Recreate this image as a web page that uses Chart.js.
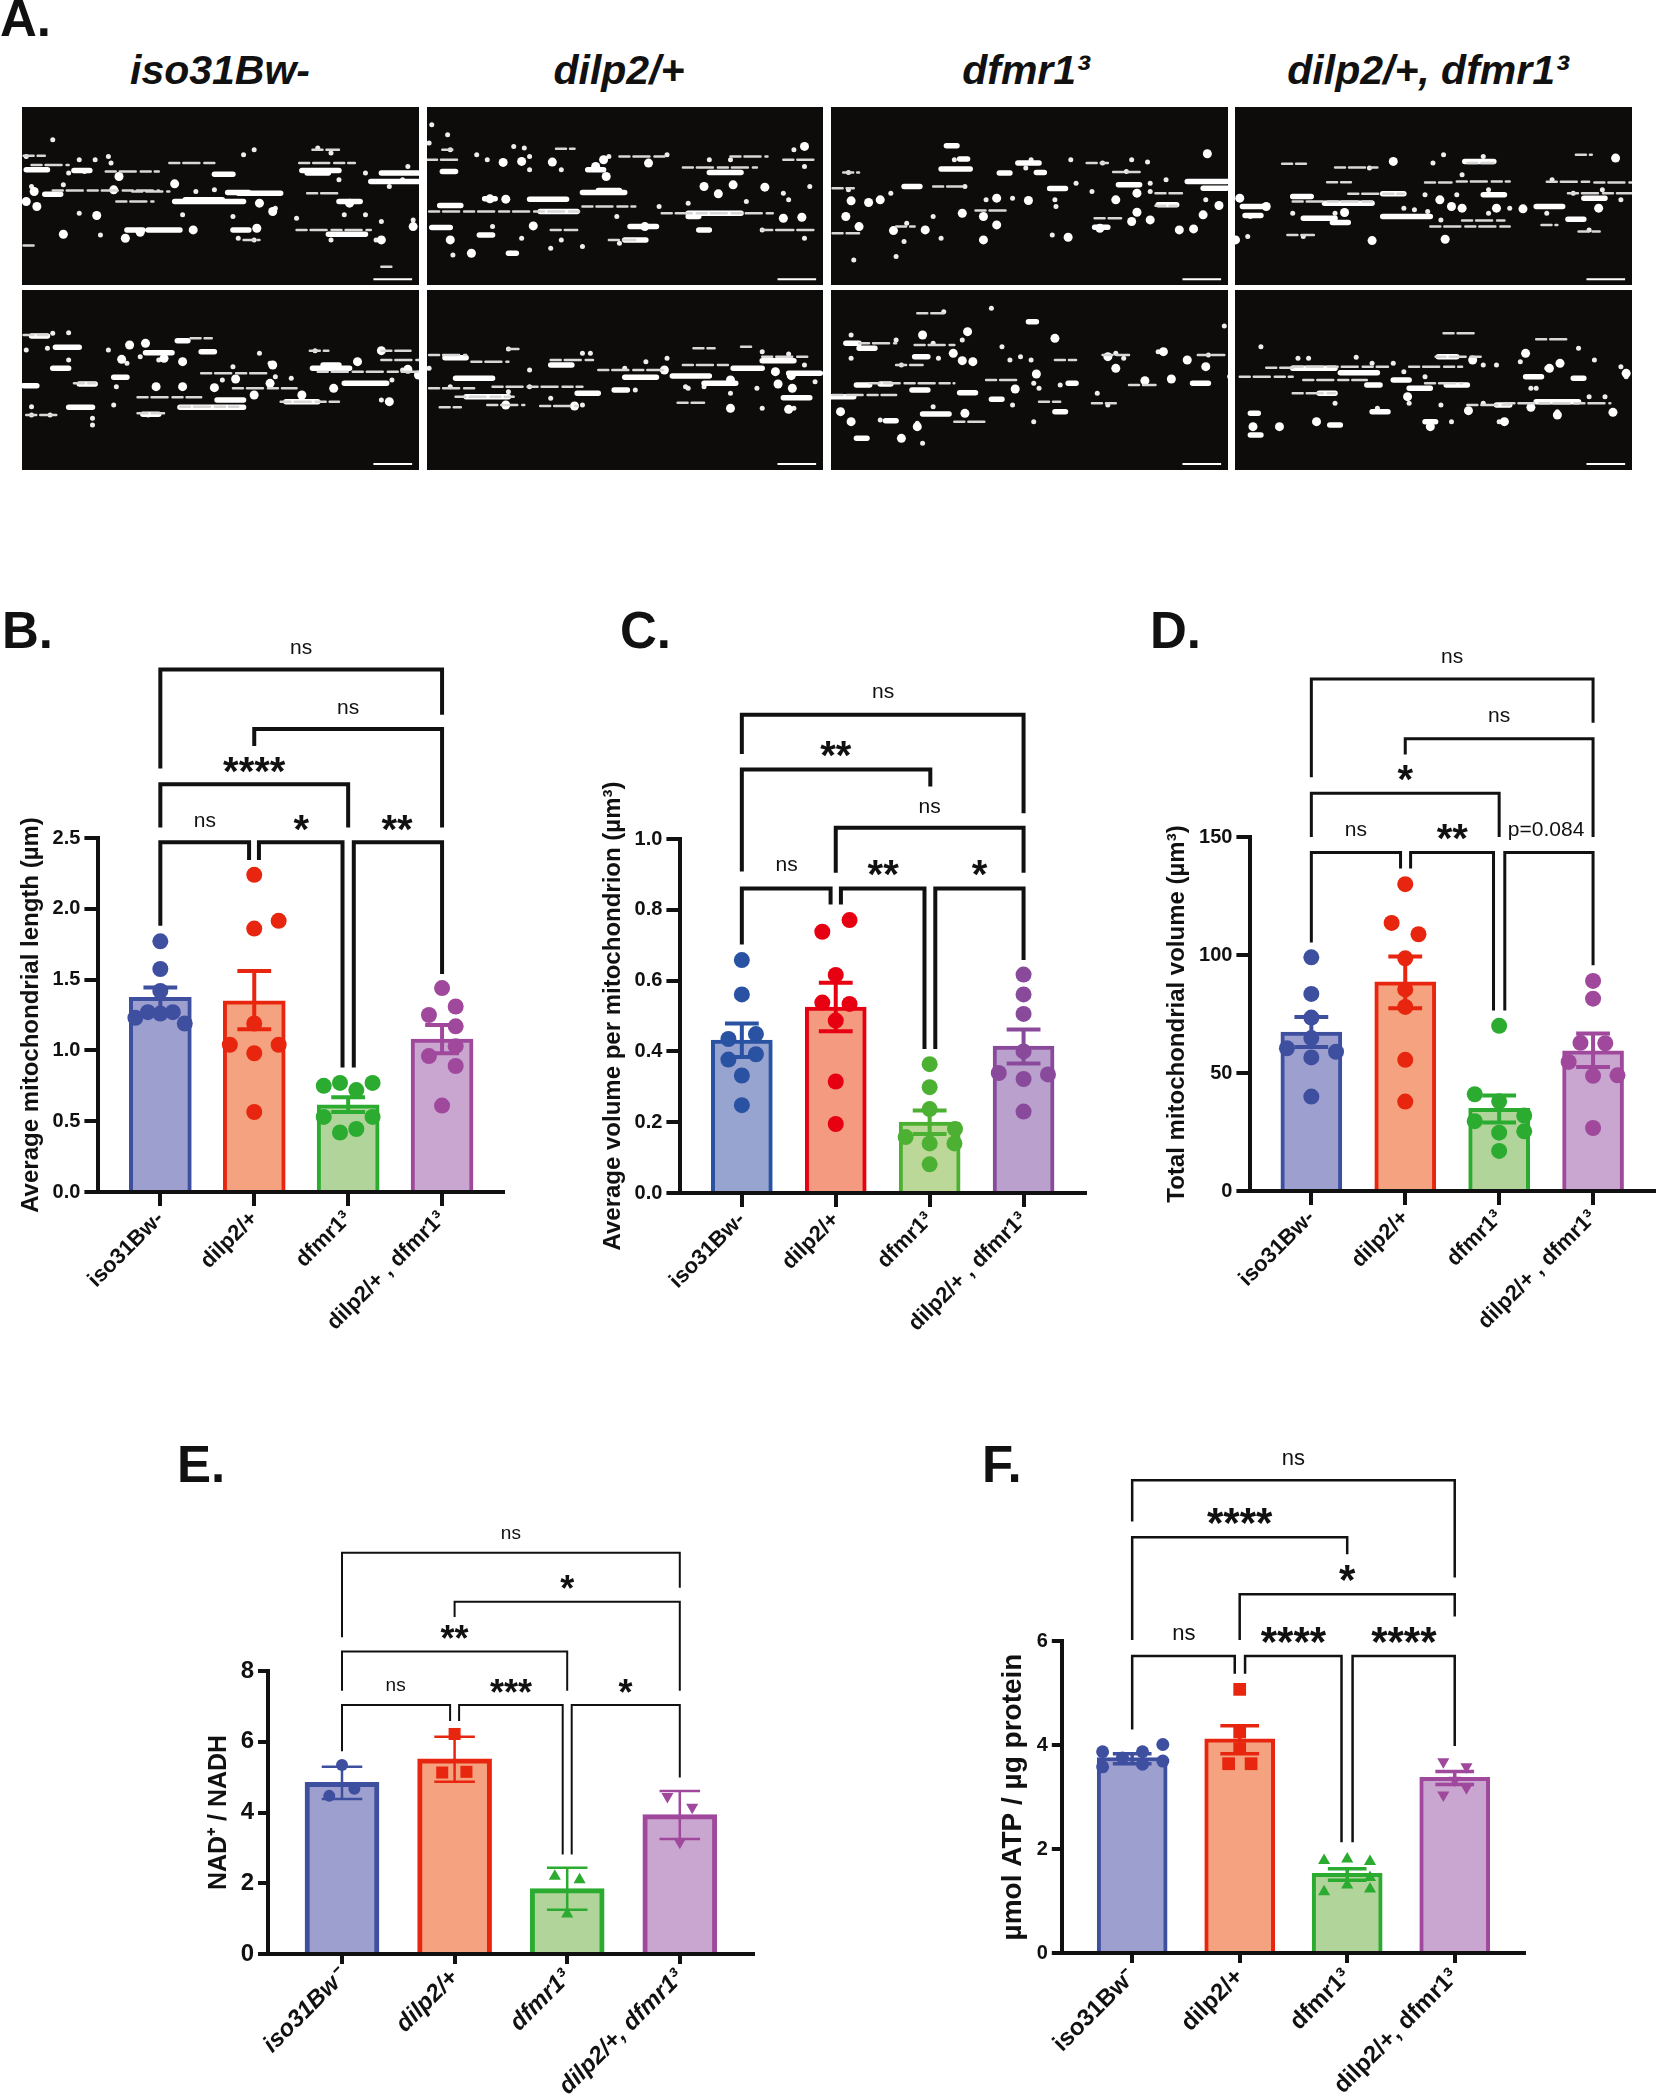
<!DOCTYPE html>
<html>
<head>
<meta charset="utf-8">
<title>Mitochondria panels</title>
<script src="https://cdn.jsdelivr.net/npm/chart.js@4"></script>
<style>
    body { margin: 0; background: #fff; width: 1657px; height: 2100px; position: relative; overflow: hidden; font-family: "Liberation Sans", Arial, sans-serif; color: #111; }
    canvas { position: absolute; }
    .letter { position: absolute; font-weight: bold; font-size: 51px; line-height: 51px; }
    .head { position: absolute; top: 47px; width: 440px; text-align: center; font-weight: bold; font-style: italic; font-size: 41px; line-height: 46px; }
    .tile { background: #0e0c0b; filter: blur(0.7px); }
</style>
</head>
<body>
<div class="letter" style="left:0px;top:-7px">A.</div>
<div class="letter" style="left:2px;top:605px">B.</div>
<div class="letter" style="left:620px;top:605px">C.</div>
<div class="letter" style="left:1150px;top:605px">D.</div>
<div class="letter" style="left:177px;top:1439px">E.</div>
<div class="letter" style="left:982px;top:1439px">F.</div>
<div class="head" style="left:0px">iso31Bw-</div>
<div class="head" style="left:399px">dilp2/+</div>
<div class="head" style="left:806px">dfmr1³</div>
<div class="head" style="left:1208px">dilp2/+, dfmr1³</div>

<script>
// ---- values ----
const groupLabels = ['iso31Bw-', 'dilp2/+', 'dfmr1³', 'dilp2/+ , dfmr1³'];
const groupLabelsE = ['iso31Bw⁻', 'dilp2/+', 'dfmr1³', 'dilp2/+, dfmr1³'];

// Panel B
const bTicks = [0, 0.5, 1, 1.5, 2, 2.5];
const bMeans = [1.375, 1.35, 0.615, 1.08];
const bUpper = [1.445, 1.56, 0.67, 1.18];
const bLower = [1.28, 1.15, 0.565, 0.98];
const bPoints = [
    [1.77, 1.575, 1.42, 1.23, 1.27, 1.26, 1.27, 1.19],
    [2.24, 1.86, 1.915, 1.19, 1.04, 1.04, 0.98, 0.565],
    [0.75, 0.77, 0.72, 0.77, 0.53, 0.53, 0.42, 0.445],
    [1.44, 1.31, 1.25, 1.17, 1.03, 0.96, 0.89, 0.61]
];
const bSpread = [
    [0, 0, 0, -0.266, -0.133, 0, 0.133, 0.26],
    [0, 0, 0.26, 0, -0.26, 0.26, 0, 0],
    [-0.26, -0.087, 0.087, 0.26, -0.26, 0.26, -0.087, 0.087],
    [0, 0.145, -0.14, 0.145, 0.145, -0.14, 0.145, 0]
];
const bBrackets = [
    [1, 2.99, 4, 3.37, 3.69],
    [2, 3.15, 4, 2.575, 3.27],
    [1, 2.575, 3, 2.575, 2.88],
    [1, 1.88, 1.945, 2.345, 2.47],
    [2.05, 2.345, 2.94, 0.88, 2.47],
    [3.06, 0.88, 4, 1.54, 2.47]
];
const bNotes = [[2.5, 3.84, 'ns'], [3, 3.42, 'ns'], [2, 3.01, '****'], [1.475, 2.62, 'ns'], [2.5, 2.6, '*'], [3.52, 2.6, '**']];

// Panel C
const cTicks = [0, 0.2, 0.4, 0.6, 0.8, 1];
const cMeans = [0.432, 0.525, 0.2, 0.415];
const cUpper = [0.479, 0.594, 0.233, 0.462];
const cLower = [0.384, 0.457, 0.167, 0.366];
const cPoints = [
    [0.658, 0.561, 0.435, 0.449, 0.377, 0.392, 0.332, 0.248],
    [0.738, 0.771, 0.616, 0.538, 0.534, 0.487, 0.315, 0.195],
    [0.364, 0.299, 0.237, 0.181, 0.158, 0.14, 0.14, 0.081],
    [0.617, 0.561, 0.506, 0.4, 0.339, 0.322, 0.335, 0.23]
];
const cSpread = [
    [0, 0, -0.143, 0.15, -0.143, 0.15, 0, 0],
    [-0.143, 0.147, 0, -0.143, 0.147, 0, 0, 0],
    [0, 0, 0, 0.27, -0.256, 0, 0.264, 0],
    [0, 0, 0, 0, -0.264, 0, 0.26, 0]
];
const cBrackets = [
    [1, 1.24, 4, 1.073, 1.351],
    [1, 0.908, 3.007, 1.148, 1.196],
    [2, 0.905, 4, 0.905, 1.032],
    [1, 0.702, 1.945, 0.815, 0.86],
    [2.055, 0.815, 2.945, 0.407, 0.86],
    [3.06, 0.407, 4, 0.658, 0.86]
];
const cNotes = [[2.505, 1.416, 'ns'], [2, 1.251, '**'], [3, 1.089, 'ns'], [1.476, 0.925, 'ns'], [2.505, 0.915, '**'], [3.53, 0.915, '*']];

// Panel D
const dTicks = [0, 50, 100, 150];
const dMeans = [67.3, 88.6, 35, 59.4];
const dUpper = [73.7, 99.4, 40.5, 66.7];
const dLower = [61, 77.4, 29, 52.5];
const dPoints = [
    [99, 83.5, 73.5, 64.8, 60.5, 56.6, 59, 40],
    [130, 113.6, 108.8, 98.6, 85.4, 78, 55.6, 37.9],
    [70, 41, 38, 32, 29.6, 25.3, 24.7, 17],
    [89, 81.5, 62.8, 62.6, 54.7, 48.8, 49, 26.7]
];
const dSpread = [
    [0, 0, 0, 0, -0.26, 0, 0.263, 0],
    [0, -0.145, 0.141, 0, 0, 0, 0, 0],
    [0, -0.26, 0, 0.267, -0.26, 0.267, 0, 0],
    [0, 0, -0.134, 0.13, -0.26, 0, 0.26, 0]
];
const dBrackets = [
    [1, 175.3, 4, 198.4, 217],
    [2, 185, 4, 150, 191.6],
    [1, 150, 3, 150, 168.5],
    [1, 105.3, 1.95, 136.6, 143.4],
    [2.057, 136.6, 2.94, 76.5, 143.4],
    [3.06, 76.5, 4, 95.7, 143.4]
];
const dNotes = [[2.5, 226, 'ns'], [3, 201, 'ns'], [2, 176.7, '*'], [1.475, 153, 'ns'], [2.5, 151.6, '**'], [3.5, 153, 'p=0.084']];

// Panel E
const eTicks = [0, 2, 4, 6, 8];
const eMeans = [4.85, 5.52, 1.85, 3.94];
const eUpper = [5.29, 6.14, 2.44, 4.61];
const eLower = [4.38, 4.87, 1.25, 3.25];
const ePoints = [
    [5.34, 4.67, 4.47],
    [6.22, 5.13, 5.15],
    [2.2, 2.1, 1.13],
    [4.45, 4.15, 3.16]
];
const eSpread = [
    [0, 0.11, -0.113],
    [0, -0.11, 0.105],
    [-0.11, 0.11, 0],
    [-0.11, 0.11, 0]
];
const eBrackets = [
    [1, 8.955, 4, 10.35, 11.34],
    [2, 9.53, 4, 7.44, 9.96],
    [1, 7.44, 3, 7.44, 8.55],
    [1, 5.73, 1.96, 6.59, 7.04],
    [2.04, 6.59, 2.96, 2.81, 7.04],
    [3.04, 2.81, 4, 4.99, 7.04]
];
const eNotes = [[2.5, 11.88, 'ns'], [3, 10.45, '*'], [2, 9.04, '**'], [1.476, 7.58, 'ns'], [2.5, 7.52, '***'], [3.517, 7.52, '*']];

// Panel F
const fTicks = [0, 2, 4, 6];
const fMeans = [3.76, 4.12, 1.53, 3.38];
const fUpper = [3.83, 4.37, 1.62, 3.49];
const fLower = [3.64, 3.83, 1.4, 3.24];
const fPoints = [
    [3.87, 3.58, 3.75, 3.87, 3.63, 4.01, 3.69],
    [5.07, 4.25, 3.93, 3.64, 3.64],
    [1.78, 1.81, 1.76, 1.31, 1.18, 1.23, 1.45],
    [3.68, 3.58, 3.32, 3.04, 3.18]
];
const fSpread = [
    [-0.275, -0.275, -0.09, 0.096, 0.096, 0.285, 0.285],
    [0, 0, 0, -0.103, 0.106],
    [-0.215, 0, 0.212, 0, -0.215, 0.212, 0.212],
    [-0.106, 0.109, 0, -0.106, 0.109]
];
const fBrackets = [
    [1, 8.3, 4, 7.22, 9.09],
    [1, 6.02, 3, 7.67, 7.995],
    [2, 6.02, 4, 6.47, 6.9],
    [1, 4.3, 1.954, 5.37, 5.71],
    [2.05, 5.37, 2.947, 2.13, 5.71],
    [3.05, 2.13, 4, 3.98, 5.71]
];
const fNotes = [[2.5, 9.51, 'ns'], [2, 8.38, '****'], [3, 7.28, '*'], [1.48, 6.13, 'ns'], [2.5, 6.1, '****'], [3.527, 6.1, '****']];

const tile1Thin = [[45,85,468],[60,130,496],[200,300,515],[320,410,490],[100,300,572],[250,320,575],[220,290,605],[565,670,490],[580,640,580],[560,700,690],[460,490,720],[45,70,737],[720,745,800],[590,640,450]];
const tile1Thick = [[405,440,523],[570,640,512],[85,115,583],[330,460,605],[350,420,600],[430,470,578],[450,530,580],[640,680,605],[700,790,545],[720,790,520],[280,340,690],[440,470,690],[620,690,703],[240,270,690],[50,90,510],[140,170,512],[580,620,520]];
const tile1Spots = [[65,575],[50,605],[70,620],[120,703],[183,647],[237,715],[225,530],[330,552],[215,570],[485,685],[490,610],[660,610],[265,697],[515,635],[365,690],[780,680],[720,720]];
const tile1Specks = [[100,420],[150,480],[180,480],[205,470],[210,490],[460,465],[480,450],[600,445],[625,460],[640,540],[690,520],[735,560],[760,540],[770,500],[130,520],[160,515],[50,470],[150,640],[345,645],[440,650],[560,655],[650,645],[690,645],[720,665],[780,660],[710,720],[625,720],[190,705],[60,560],[120,555],[370,575],[405,570],[520,625],[450,715],[480,720]];
const tile2Thin = [[806,870,480],[835,860,450],[1050,1085,447],[1170,1260,470],[1290,1430,503],[1380,1450,470],[1480,1540,480],[810,1100,635],[1250,1460,640],[1480,1540,690],[1440,1490,690],[1100,1200,620],[1150,1200,720],[1040,1090,690]];
const tile2Thick = [[835,860,515],[1000,1070,598],[1130,1170,572],[1100,1180,578],[830,870,617],[915,935,597],[1340,1400,518],[1020,1090,635],[1300,1400,640],[815,850,683],[1180,1220,720],[1190,1240,680],[905,930,705],[1300,1320,650],[960,975,760],[1320,1340,690],[1110,1140,510]];
const tile2Spots = [[950,488],[985,485],[1043,487],[1140,480],[1225,490],[955,598],[925,597],[1007,678],[1330,560],[1357,582],[1385,555],[1445,562],[1515,652],[1480,655],[1218,680],[890,760],[850,720],[1125,500],[1145,530],[1520,440]];
const tile2Specks = [[815,375],[845,405],[810,430],[850,450],[970,440],[990,445],[1000,470],[900,465],[920,480],[1060,510],[1000,510],[1150,470],[1260,465],[1340,480],[1380,480],[1500,450],[1520,500],[1530,560],[1480,580],[1410,605],[1490,600],[1300,610],[1245,620],[1165,650],[930,680],[985,715],[1060,720],[1040,745],[965,760],[855,765],[1100,740],[1170,730],[1520,715],[1440,690]];
const tile3Thin = [[200,260,560],[280,345,632],[490,530,490],[540,590,517],[620,670,580],[30,60,518],[505,555,655],[10,50,565],[620,660,618],[10,60,700],[130,165,680]];
const tile3Thick = [[225,245,438],[215,270,508],[325,345,520],[395,410,518],[360,400,490],[145,175,560],[420,450,566],[680,755,545],[710,755,565],[625,660,615],[505,530,682],[550,590,555],[250,265,478]];
const tile3Spots = [[45,603],[78,608],[35,650],[100,600],[320,595],[255,640],[60,680],[185,690],[125,692],[295,720],[455,712],[665,690],[692,687],[710,645],[740,617],[585,580],[585,637],[515,685],[718,462],[380,602],[545,600],[610,660],[575,665],[295,650],[320,675]];
const tile3Specks = [[40,570],[120,580],[260,560],[300,600],[350,595],[430,600],[460,480],[520,490],[575,480],[605,487],[565,515],[640,540],[470,550],[500,575],[610,550],[610,575],[715,600],[432,620],[200,650],[150,670],[145,725],[215,715],[425,705],[50,780],[130,770],[385,480],[375,505],[240,480],[40,518]];
const tile4Thin = [[860,905,492],[960,1040,503],[1210,1260,490],[1415,1445,465],[1360,1440,546],[1450,1520,548],[945,990,547],[1130,1180,548],[1190,1290,545],[985,1090,582],[880,1030,605],[1140,1290,680],[1200,1280,662],[870,920,705],[1420,1460,695],[1400,1520,580],[1350,1380,675]];
const tile4Thick = [[1205,1260,485],[1050,1090,582],[940,1030,610],[785,830,620],[1050,1140,650],[900,960,655],[1240,1280,585],[1340,1390,620],[1400,1430,658],[1430,1470,595],[955,985,668],[790,820,647],[880,915,590]];
const tile4Spots = [[780,595],[830,620],[1158,600],[1180,620],[1200,625],[1265,625],[1315,627],[1030,722],[1168,718],[772,720],[1070,485],[978,638],[1458,625],[1490,475]];
const tile4Specks = [[1025,505],[1145,490],[1165,465],[1240,470],[1200,525],[1370,540],[1130,585],[1190,585],[1250,570],[1160,660],[1250,640],[1290,625],[1360,640],[1410,580],[1465,570],[1500,600],[1440,690],[795,710],[880,640],[800,650],[960,640],[1090,625],[1110,630],[1135,635],[900,710]];
const tile5Thin = [[45,90,1005],[720,775,1052],[720,790,1080],[585,620,1052],[260,380,1192],[340,450,1220],[380,510,1120],[530,640,1205],[440,560,1165],[600,790,1115],[140,180,1150],[50,110,1245],[260,310,1240],[360,400,1015]];
const tile5Thick = [[60,90,1008],[105,150,1042],[275,325,1058],[100,130,1105],[590,660,1105],[610,640,1095],[215,240,1132],[150,180,1152],[45,70,1157],[650,730,1150],[130,175,1222],[340,460,1222],[410,460,1200],[380,405,1055],[335,355,1022],[540,600,1205],[270,300,1243]];
const tile5Spots = [[245,1035],[275,1030],[295,1160],[345,1160],[405,1163],[310,1075],[230,1078],[345,1085],[720,1052],[770,1108],[630,1165],[735,1205],[570,1185],[510,1150],[445,1137],[675,1085],[480,1185],[515,1095],[790,1125]];
const tile5Specks = [[100,1000],[130,998],[50,1050],[90,1045],[130,1080],[205,1050],[240,1090],[265,1070],[300,1080],[490,1060],[510,1090],[440,1100],[520,1130],[550,1135],[420,1140],[740,1140],[595,1052],[760,1110],[720,1200],[60,1220],[60,1245],[95,1245],[175,1255],[175,1275],[215,1215],[220,1160],[280,1245]];
const tile6Thin = [[810,880,1065],[890,960,1085],[1040,1120,1080],[960,985,1047],[1310,1350,1045],[1400,1425,1040],[1130,1260,1110],[1290,1380,1095],[810,900,1165],[1440,1530,1070],[930,1100,1160],[860,970,1190],[830,870,1222],[920,990,1215],[1280,1330,1208],[1020,1090,1218]];
const tile6Thick = [[840,880,1073],[860,930,1135],[1180,1240,1132],[1270,1340,1128],[1385,1440,1105],[1330,1390,1150],[1490,1550,1120],[1090,1130,1180],[880,960,1190],[1480,1530,1193],[1040,1080,1095],[1160,1185,1170],[1440,1500,1082]];
const tile6Spots = [[1085,1218],[1497,1165],[1465,1115],[1495,1127],[1380,1140],[1255,1110],[1470,1152],[1490,1228],[1380,1225],[955,1215]];
const tile6Specks = [[810,1105],[960,1047],[1000,1110],[1100,1060],[1115,1060],[1180,1105],[1220,1085],[1260,1075],[1440,1055],[1490,1062],[1520,1095],[1540,1145],[1300,1165],[1330,1160],[1430,1165],[1000,1160],[850,1160],[1200,1170],[1100,1215],[1295,1160],[1500,1225],[1380,1180],[1440,1225],[960,1175],[1040,1195]];
const tile7Thin = [[170,220,940],[165,240,1035],[130,180,1095],[300,360,1140],[430,470,1080],[520,570,1065],[10,130,1185],[80,240,1150],[240,300,1265],[500,545,1210],[700,750,1065],[400,440,1205],[570,620,1155],[60,130,1030]];
const tile7Thick = [[35,60,1030],[60,90,1045],[165,190,1070],[100,120,1152],[55,80,1155],[160,190,1170],[250,280,1178],[7,50,1190],[310,330,1198],[180,230,1242],[110,130,1262],[55,75,1315],[430,450,1235],[690,720,1150],[455,470,1150],[380,395,965]];
const tile7Spots = [[238,1060],[255,1082],[275,1085],[180,1005],[265,995],[25,1235],[45,1265],[170,1280],[140,1315],[395,1122],[355,1167],[650,1137],[600,1142],[715,1100],[545,1105],[680,1080],[635,1055],[530,1070],[430,1015],[260,1240]];
const tile7Specks = [[220,935],[310,925],[45,1005],[130,1020],[200,1030],[255,1020],[330,1040],[345,1080],[365,1070],[385,1080],[45,1075],[140,1095],[210,1075],[390,1150],[400,1165],[545,1060],[560,1075],[625,1055],[720,1065],[510,1180],[530,1215],[440,1155],[350,1215],[390,1265],[100,1260],[760,1130],[180,1330],[170,1270],[200,1220],[750,978]];
const tile8Thin = [[1165,1230,1000],[1340,1400,1018],[780,880,1130],[830,880,1103],[880,1060,1100],[900,1020,1140],[1150,1240,1070],[1130,1200,1150],[1280,1480,1210],[880,960,1180],[1100,1200,1100],[1210,1290,1215]];
const tile8Thick = [[880,960,1105],[970,1040,1118],[1155,1190,1070],[1070,1100,1140],[1100,1140,1165],[1170,1210,1155],[1320,1350,1130],[1410,1430,1135],[930,960,1180],[1020,1045,1155],[1340,1420,1205],[1265,1290,1215],[800,815,1240],[800,820,1305],[950,970,1275],[1030,1060,1235],[1130,1150,1265]];
const tile8Spots = [[1220,1080],[1320,1060],[1385,1090],[1365,1105],[1097,1190],[1330,1222],[1212,1232],[1485,1237],[1380,1245],[855,1280],[925,1265],[1280,1265],[805,1280],[1510,1120],[1140,1280]];
const tile8Specks = [[820,1040],[890,1075],[910,1075],[1000,1072],[1030,1090],[1070,1090],[1090,1115],[1130,1130],[1240,1095],[1265,1095],[1310,1085],[1420,1045],[1450,1080],[1500,1100],[1510,1130],[1360,1105],[1340,1165],[1330,1165],[1440,1190],[1470,1190],[960,1210],[1040,1225],[1180,1265],[1270,1265],[1380,1235],[1240,1210],[1100,1210],[1160,1215]];

// ---- colours ----
const lineColors = ['#3f4fa0', '#e8260f', '#2bab2f', '#a0489c'];
const fillColors = ['#9da0ce', '#f4a27f', '#b1d49b', '#c8a6cf'];
const lineColorsC = ['#2a52a2', '#e60012', '#4cb032', '#8a4a9c'];
const fillColorsC = ['#98a4d0', '#f39a80', '#bbd898', '#baa0cc'];
const ink = '#111';
const fontName = '"Liberation Sans", Arial, sans-serif';

// draws the "ns" and star labels above the brackets, through the chart's scales
function notesPlugin(notes, textSize, starSize) {
    return {
        id: 'notes',
        afterDraw(chart) {
            const ctx = chart.ctx;
            ctx.save();
            ctx.fillStyle = ink;
            ctx.textAlign = 'center';
            notes.forEach(n => {
                const x = chart.scales.x.getPixelForValue(n[0]);
                const y = chart.scales.y.getPixelForValue(n[1]);
                if (n[2][0] === '*') {
                    ctx.font = 'bold ' + starSize + 'px ' + fontName;
                    ctx.textBaseline = 'alphabetic';
                    ctx.fillText(n[2], x, y + starSize * 0.47);
                } else {
                    ctx.font = textSize + 'px ' + fontName;
                    ctx.textBaseline = 'middle';
                    ctx.fillText(n[2], x, y);
                }
            });
            ctx.restore();
        }
    };
}

// one bar panel: axis box in page pixels, everything else goes through the scales
function drawPanel(p) {
    const canvas = document.createElement('canvas');
    const titleLine = p.titleSize * 1.2;
    const leftWidth = p.titleOffset + titleLine / 2;
    const topPad = p.yTop - p.canvasTop;
    const bottomSpace = 190;
    canvas.style.left = (p.axisLeft - leftWidth) + 'px';
    canvas.style.top = p.canvasTop + 'px';
    canvas.width = p.axisRight - p.axisLeft + leftWidth;
    canvas.height = p.yBottom - p.canvasTop + bottomSpace;
    document.body.appendChild(canvas);

    const xMin = 1 - (p.firstX - p.axisLeft) / p.step;
    const xMax = 1 + (p.axisRight - p.firstX) / p.step;

    const datasets = [{
        type: 'bar',
        data: p.means.map((v, i) => ({ x: i + 1, y: v })),
        backgroundColor: p.fills,
        borderColor: p.lines,
        borderWidth: p.barLine,
        borderSkipped: 'bottom',
        barThickness: p.barWidth,
        order: 5
    }];
    p.points.forEach((vals, g) => {
        datasets.push({
            type: 'scatter',
            data: vals.map((v, i) => ({ x: g + 1 + p.spread[g][i], y: v })),
            backgroundColor: p.lines[g],
            borderWidth: 0,
            pointStyle: p.shapes[g],
            pointRotation: p.rotations[g],
            pointRadius: p.sizes[g],
            clip: false,
            order: 3
        });
        const gap = { x: g + 1, y: null };
        const lo = p.lower[g], hi = p.upper[g], c = g + 1, cap = 0.18;
        datasets.push({
            type: 'line',
            data: [{ x: c, y: lo }, { x: c, y: hi }, gap, { x: c - cap, y: hi }, { x: c + cap, y: hi }, gap, { x: c - cap, y: lo }, { x: c + cap, y: lo }],
            borderColor: p.lines[g],
            borderWidth: p.errLine,
            pointRadius: 0,
            clip: false,
            order: 2
        });
    });
    p.brackets.forEach(b => {
        datasets.push({
            type: 'line',
            data: [{ x: b[0], y: b[1] }, { x: b[0], y: b[4] }, { x: b[2], y: b[4] }, { x: b[2], y: b[3] }],
            borderColor: ink,
            borderWidth: p.bracketLine,
            borderJoinStyle: 'miter',
            pointRadius: 0,
            clip: false,
            order: 1
        });
    });

    new Chart(canvas, {
        type: 'bar',
        data: { datasets: datasets },
        plugins: [notesPlugin(p.notes, p.textSize, p.starSize)],
        options: {
            responsive: false,
            animation: false,
            layout: { autoPadding: false, padding: { top: topPad, left: 0, right: 0, bottom: 0 } },
            plugins: { legend: { display: false }, tooltip: { enabled: false } },
            scales: {
                x: {
                    type: 'linear',
                    offset: false,
                    min: xMin,
                    max: xMax,
                    afterBuildTicks: ax => { ax.ticks = [1, 2, 3, 4].map(v => ({ value: v })); },
                    afterFit: ax => { ax.height = bottomSpace; },
                    grid: { offset: false, drawOnChartArea: false, color: ink, lineWidth: p.axisLine, tickLength: p.tickLength },
                    border: { color: ink, width: p.axisLine },
                    ticks: {
                        autoSkip: false,
                        minRotation: 45,
                        maxRotation: 45,
                        padding: p.labelPad,
                        color: ink,
                        font: { family: fontName, weight: 'bold', style: p.labelStyle, size: p.labelSize },
                        callback: v => p.labels[v - 1]
                    }
                },
                y: {
                    min: 0,
                    max: p.ticks[p.ticks.length - 1],
                    afterBuildTicks: ax => { ax.ticks = p.ticks.map(v => ({ value: v })); },
                    afterFit: ax => { ax.width = leftWidth; },
                    grid: { drawOnChartArea: false, color: ink, lineWidth: p.axisLine, tickLength: p.tickLength },
                    border: { color: ink, width: p.axisLine },
                    title: {
                        display: true,
                        text: p.title,
                        color: ink,
                        padding: 0,
                        font: { family: fontName, weight: p.titleWeight, size: p.titleSize }
                    },
                    ticks: {
                        padding: 4,
                        color: ink,
                        font: { family: fontName, weight: 'bold', size: p.tickSize },
                        callback: v => v.toFixed(p.digits)
                    }
                }
            }
        }
    });
}

const dots = ['circle', 'circle', 'circle', 'circle'];
const shapes = ['circle', 'rect', 'triangle', 'triangle'];

drawPanel({
    title: 'Average mitochondrial length (µm)', titleWeight: 'bold', titleSize: 24, titleOffset: 67,
    axisLeft: 98, axisRight: 505, yTop: 838, yBottom: 1192, canvasTop: 640, firstX: 160, step: 94,
    ticks: bTicks, digits: 1, means: bMeans, upper: bUpper, lower: bLower, points: bPoints, spread: bSpread,
    brackets: bBrackets, notes: bNotes, labels: groupLabels, labelStyle: 'normal', labelSize: 22, labelPad: 0,
    fills: fillColors, lines: lineColors, shapes: dots, rotations: [0, 0, 0, 0], sizes: [8, 8, 8, 8],
    barWidth: 62, barLine: 4, errLine: 4, bracketLine: 4, axisLine: 4, tickLength: 14, tickSize: 20, textSize: 21, starSize: 40
});
drawPanel({
    title: 'Average volume per mitochondrion (µm³)', titleWeight: 'bold', titleSize: 24, titleOffset: 67,
    axisLeft: 680, axisRight: 1087, yTop: 839, yBottom: 1193, canvasTop: 660, firstX: 741.5, step: 94,
    ticks: cTicks, digits: 1, means: cMeans, upper: cUpper, lower: cLower, points: cPoints, spread: cSpread,
    brackets: cBrackets, notes: cNotes, labels: groupLabels, labelStyle: 'normal', labelSize: 22, labelPad: 0,
    fills: fillColorsC, lines: lineColorsC, shapes: dots, rotations: [0, 0, 0, 0], sizes: [8, 8, 8, 8],
    barWidth: 61, barLine: 4, errLine: 4, bracketLine: 4, axisLine: 4, tickLength: 14, tickSize: 20, textSize: 21, starSize: 40
});
drawPanel({
    title: 'Total mitochondrial volume (µm³)', titleWeight: 'bold', titleSize: 24, titleOffset: 73,
    axisLeft: 1250, axisRight: 1656, yTop: 837, yBottom: 1191, canvasTop: 640, firstX: 1311, step: 94,
    ticks: dTicks, digits: 0, means: dMeans, upper: dUpper, lower: dLower, points: dPoints, spread: dSpread,
    brackets: dBrackets, notes: dNotes, labels: groupLabels, labelStyle: 'normal', labelSize: 22, labelPad: 0,
    fills: fillColors, lines: lineColors, shapes: dots, rotations: [0, 0, 0, 0], sizes: [8, 8, 8, 8],
    barWidth: 61, barLine: 4, errLine: 4, bracketLine: 3, axisLine: 4, tickLength: 14, tickSize: 20, textSize: 21, starSize: 40
});
drawPanel({
    title: 'NAD⁺ / NADH', titleWeight: 'bold', titleSize: 25, titleOffset: 49,
    axisLeft: 268, axisRight: 755, yTop: 1671, yBottom: 1954, canvasTop: 1510, firstX: 342, step: 112.6,
    ticks: eTicks, digits: 0, means: eMeans, upper: eUpper, lower: eLower, points: ePoints, spread: eSpread,
    brackets: eBrackets, notes: eNotes, labels: groupLabelsE, labelStyle: 'italic', labelSize: 24, labelPad: 0,
    fills: fillColors, lines: lineColors, shapes: shapes, rotations: [0, 0, 0, 180], sizes: [6, 8.5, 7, 7],
    barWidth: 74, barLine: 5, errLine: 2.5, bracketLine: 2, axisLine: 4, tickLength: 10, tickSize: 24, textSize: 19, starSize: 36
});
drawPanel({
    title: 'µmol ATP / µg protein', titleWeight: 'bold', titleSize: 28, titleOffset: 49,
    axisLeft: 1062, axisRight: 1527, yTop: 1641, yBottom: 1953, canvasTop: 1440, firstX: 1132.5, step: 107.7,
    ticks: fTicks, digits: 0, means: fMeans, upper: fUpper, lower: fLower, points: fPoints, spread: fSpread,
    brackets: fBrackets, notes: fNotes, labels: groupLabelsE, labelStyle: 'normal', labelSize: 24, labelPad: 0,
    fills: fillColors, lines: lineColors, shapes: shapes, rotations: [0, 0, 0, 180], sizes: [6.5, 9, 7, 7],
    barWidth: 70, barLine: 4, errLine: 3.5, bracketLine: 2.5, axisLine: 4, tickLength: 10, tickSize: 20, textSize: 22, starSize: 42
});

// streaks become line segments with gaps, spots are round points
function segments(list) {
    const out = [];
    list.forEach(s => {
        out.push({ x: s[0], y: s[2] }, { x: s[1], y: s[2] }, { x: s[1], y: null });
    });
    return out;
}

function drawTile(t) {
    const canvas = document.createElement('canvas');
    canvas.className = 'tile';
    canvas.style.left = t.left + 'px';
    canvas.style.top = t.top + 'px';
    canvas.width = t.width;
    canvas.height = t.height;
    document.body.appendChild(canvas);
    const barEnd = t.xMax - 13;
    new Chart(canvas, {
        type: 'scatter',
        data: {
            datasets: [
                { type: 'line', data: segments(t.thin), borderColor: '#d8d8d8', borderWidth: 2.5, borderCapStyle: 'round', borderDash: [10, 4, 16, 5], pointRadius: 0 },
                { type: 'line', data: segments(t.thick), borderColor: '#fff', borderWidth: 5.5, borderCapStyle: 'round', pointRadius: 0 },
                { data: t.spots.map(s => ({ x: s[0], y: s[1] })), backgroundColor: '#fff', borderWidth: 0, pointRadius: 4.5 },
                { data: t.specks.map(s => ({ x: s[0], y: s[1] })), backgroundColor: '#eee', borderWidth: 0, pointRadius: 2.5 },
                { type: 'line', data: [{ x: barEnd - 73, y: t.barY }, { x: barEnd, y: t.barY }], borderColor: '#fff', borderWidth: 2, pointRadius: 0 }
            ]
        },
        options: {
            responsive: false,
            animation: false,
            layout: { autoPadding: false },
            plugins: { legend: { display: false }, tooltip: { enabled: false } },
            scales: {
                x: { display: false, min: t.xMin, max: t.xMax },
                y: { display: false, min: t.yMin, max: t.yMax, reverse: true }
            }
        }
    });
}

drawTile({ left: 22, top: 107, width: 397, height: 178, xMin: 42, xMax: 791, yMin: 322, yMax: 855, barY: 838, thin: tile1Thin, thick: tile1Thick, spots: tile1Spots, specks: tile1Specks });
drawTile({ left: 427, top: 107, width: 396, height: 178, xMin: 806, xMax: 1555, yMin: 322, yMax: 855, barY: 838, thin: tile2Thin, thick: tile2Thick, spots: tile2Spots, specks: tile2Specks });
drawTile({ left: 831, top: 107, width: 397, height: 178, xMin: 7, xMax: 757, yMin: 322, yMax: 855, barY: 838, thin: tile3Thin, thick: tile3Thick, spots: tile3Spots, specks: tile3Specks });
drawTile({ left: 1235, top: 107, width: 397, height: 178, xMin: 771, xMax: 1521, yMin: 322, yMax: 855, barY: 838, thin: tile4Thin, thick: tile4Thick, spots: tile4Spots, specks: tile4Specks });
drawTile({ left: 22, top: 290, width: 397, height: 180, xMin: 42, xMax: 791, yMin: 870, yMax: 1410, barY: 1392, thin: tile5Thin, thick: tile5Thick, spots: tile5Spots, specks: tile5Specks });
drawTile({ left: 427, top: 290, width: 396, height: 180, xMin: 806, xMax: 1555, yMin: 870, yMax: 1410, barY: 1392, thin: tile6Thin, thick: tile6Thick, spots: tile6Spots, specks: tile6Specks });
drawTile({ left: 831, top: 290, width: 397, height: 180, xMin: 7, xMax: 757, yMin: 870, yMax: 1410, barY: 1392, thin: tile7Thin, thick: tile7Thick, spots: tile7Spots, specks: tile7Specks });
drawTile({ left: 1235, top: 290, width: 397, height: 180, xMin: 771, xMax: 1521, yMin: 870, yMax: 1410, barY: 1392, thin: tile8Thin, thick: tile8Thick, spots: tile8Spots, specks: tile8Specks });
</script>
</body>
</html>
